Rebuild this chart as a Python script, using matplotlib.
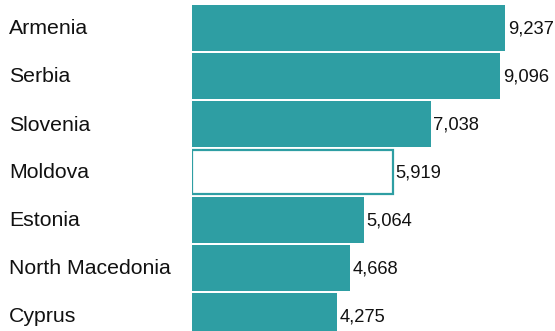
import matplotlib.pyplot as plt

# data
countries = ["Armenia", "Serbia", "Slovenia", "Moldova", "Estonia",
             "North Macedonia", "Cyprus"]
values = [9237, 9096, 7038, 5919, 5064, 4668, 4275]
highlight = "Moldova"

teal = "#2e9ea3"

fig = plt.figure(figsize=(5.55, 3.31), dpi=100)
ax = fig.add_axes([192 / 555, 0, 363 / 555, 1])

ypos = list(range(len(countries)))
for y, name, v in zip(ypos, countries, values):
    if name == highlight:
        ax.barh(y, v, height=0.92, color="white", edgecolor=teal,
                linewidth=1.6)
    else:
        ax.barh(y, v, height=0.958, color=teal, edgecolor="none")
    ax.text(v + 80, y + 0.015, f"{v:,}", va="center", ha="left",
            fontsize=13.2, family="Liberation Sans", color="#111111")
    fig.text(9 / 555, 1 - (29 + 48 * y) / 331, name, va="center",
             ha="left", fontsize=15.3, family="Liberation Sans",
             color="#111111")

ax.set_xlim(0, 10711)
top = -28 / 48
ax.set_ylim(top + 331 / 48, top)
ax.axis("off")

fig.savefig("out.png", dpi=100)
